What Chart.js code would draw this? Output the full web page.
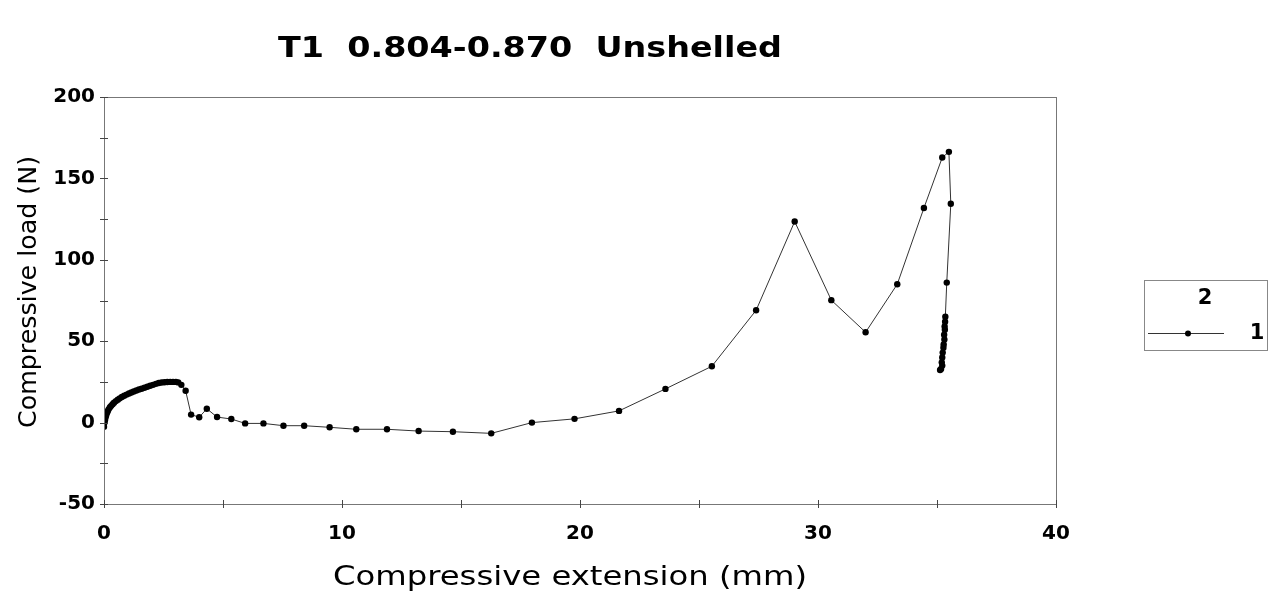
<!DOCTYPE html>
<html>
<head>
<meta charset="utf-8">
<script src="https://cdn.jsdelivr.net/npm/chart.js@4/dist/chart.umd.min.js"></script>
<style>
  html, body { margin: 0; padding: 0; background: #fff; }
  #wrap { width: 1274px; height: 593px; position: relative; }
</style>
</head>
<body>
<div id="wrap"><canvas id="c" width="1274" height="593"></canvas></div>
<script>
// ---- data ----
const chartTitle = "T1  0.804-0.870  Unshelled";
const xAxisTitle = "Compressive extension (mm)";
const yAxisTitle = "Compressive load (N)";
const legendTitle = "2";
const seriesName = "1";

const extension = [
  0, 0.02, 0.04, 0.06, 0.08, 0.1, 0.13, 0.16, 0.2, 0.25, 0.3, 0.36, 0.42, 0.5, 0.58, 0.66,
  0.75, 0.85, 0.95, 1.05, 1.15, 1.25, 1.36, 1.47, 1.58, 1.7, 1.82, 1.94, 2.06, 2.18, 2.3,
  2.42, 2.54, 2.66, 2.78, 2.9, 3.02, 3.12, 3.25, 3.43, 3.66, 4.0, 4.32, 4.75, 5.35, 5.93,
  6.7, 7.54, 8.41, 9.48, 10.6, 11.89, 13.22, 14.66, 16.27, 17.98, 19.77, 21.64, 23.59,
  25.54, 27.4, 29.02, 30.56, 32.0, 33.33, 34.45, 35.22, 35.5, 35.58, 35.41,
  35.35, 35.34, 35.32, 35.33, 35.3, 35.31, 35.28, 35.27, 35.24, 35.22, 35.2, 35.22, 35.17, 35.13
];
const load = [
  -2.5, 0, 1.5, 3, 4, 5, 6.2, 7.2, 8.3, 9.4, 10.3, 11.3, 12.2, 13.2, 14.1, 14.9,
  15.7, 16.5, 17.2, 17.9, 18.5, 19.1, 19.7, 20.3, 20.8, 21.4, 22, 22.6, 23.2, 23.8, 24.3,
  24.6, 24.8, 24.9, 25, 25, 25, 24.7, 23.2, 19.6, 4.9, 3.3, 8.5, 3.4, 2.2, -0.5,
  -0.5, -1.9, -1.9, -2.9, -4.1, -4.1, -5.2, -5.6, -6.6, 0, 2.3, 7.2, 20.7,
  34.6, 69, 123.5, 75.2, 55.5, 85, 131.8, 162.8, 166.3, 134.4, 86,
  65, 62, 59, 57, 54, 51, 48, 46, 43, 40, 37, 35, 33, 32.3
];

const xMin = 0, xMax = 40, xStep = 5, xLabelStep = 10;
const yMin = -50, yMax = 200, yStep = 25, yLabelStep = 50;

const points = extension.map((x, i) => ({ x: x, y: load[i] }));

const FONT = "'DejaVu Sans', Verdana, sans-serif";

// draw text centred at (cx, cy), stretched horizontally to a target width
function stretchedText(ctx, text, cx, cy, targetW) {
  const w = ctx.measureText(text).width;
  const sx = targetW / w;
  ctx.save();
  ctx.translate(cx, cy);
  ctx.scale(sx, 1);
  ctx.textAlign = 'center';
  ctx.fillText(text, 0, 0);
  ctx.restore();
}

const framePlugin = {
  id: 'frame',
  afterDraw(chart) {
    const { ctx, chartArea: a } = chart;
    const xs = chart.scales.x, ys = chart.scales.y;
    ctx.save();
    ctx.strokeStyle = '#777';
    ctx.lineWidth = 1;
    ctx.strokeRect(Math.round(a.left) + 0.5, Math.round(a.top) + 0.5,
      Math.round(a.right - a.left), Math.round(a.bottom - a.top));
    // crossing tick marks
    ctx.strokeStyle = '#444';
    ctx.beginPath();
    for (let v = xMin; v <= xMax; v += xStep) {
      const px = Math.round(xs.getPixelForValue(v)) + 0.5;
      ctx.moveTo(px, a.bottom - 4); ctx.lineTo(px, a.bottom + 4);
    }
    for (let v = yMin; v <= yMax; v += yStep) {
      const py = Math.round(ys.getPixelForValue(v)) + 0.5;
      ctx.moveTo(a.left - 4, py); ctx.lineTo(a.left + 4, py);
    }
    ctx.stroke();
    // chart title
    ctx.fillStyle = '#000';
    ctx.textBaseline = 'middle';
    ctx.font = "bold 29px " + FONT;
    stretchedText(ctx, chartTitle, 530, 49, 504);
    // x axis title
    ctx.font = "26px " + FONT;
    stretchedText(ctx, xAxisTitle, 570, 578, 474);
    // y axis title
    ctx.save();
    ctx.translate(29, 292);
    ctx.rotate(-Math.PI / 2);
    ctx.font = "25px " + FONT;
    stretchedText(ctx, yAxisTitle, 0, 0, 272);
    ctx.restore();
    // legend
    const lx = 1144, ly = 280, lw = 123, lh = 70;
    ctx.strokeStyle = '#888';
    ctx.lineWidth = 1;
    ctx.strokeRect(lx + 0.5, ly + 0.5, lw, lh);
    ctx.font = "bold 21px " + FONT;
    ctx.textAlign = 'center';
    ctx.fillText(legendTitle, 1205, 299);
    const ds = chart.data.datasets[0];
    ctx.strokeStyle = ds.borderColor;
    ctx.beginPath();
    ctx.moveTo(1148, 333.5);
    ctx.lineTo(1224, 333.5);
    ctx.stroke();
    ctx.fillStyle = ds.pointBackgroundColor;
    ctx.beginPath();
    ctx.arc(1188, 333.5, 3, 0, Math.PI * 2);
    ctx.fill();
    ctx.fillStyle = '#000';
    ctx.fillText(ds.label, 1257, 334);
    ctx.restore();
  }
};

new Chart(document.getElementById('c'), {
  type: 'scatter',
  data: {
    datasets: [{
      label: seriesName,
      data: points,
      showLine: true,
      borderColor: '#333',
      borderWidth: 1,
      pointBackgroundColor: '#000',
      pointBorderColor: '#000',
      pointRadius: 3.2,
      pointBorderWidth: 0,
      tension: 0
    }]
  },
  options: {
    responsive: false,
    animation: false,
    events: [],
    layout: { padding: { left: 0, top: 97, right: 218, bottom: 0 } },
    plugins: { legend: { display: false }, title: { display: false }, tooltip: { enabled: false } },
    scales: {
      x: {
        type: 'linear', min: xMin, max: xMax,
        afterFit(s) { s.height = 89; },
        border: { display: true, color: '#777', width: 1 },
        grid: { drawOnChartArea: false, drawTicks: false },
        ticks: {
          stepSize: xStep, color: '#000', padding: 18,
          font: { family: FONT, size: 20, weight: 'bold' },
          maxRotation: 0, autoSkip: false,
          callback: v => (v % xLabelStep === 0 ? String(v) : '')
        }
      },
      y: {
        type: 'linear', min: yMin, max: yMax,
        afterFit(s) { s.width = 104; },
        border: { display: true, color: '#777', width: 1 },
        grid: { drawOnChartArea: false, drawTicks: false },
        ticks: {
          stepSize: yStep, color: '#000', padding: 9,
          font: { family: FONT, size: 20, weight: 'bold' },
          autoSkip: false,
          callback: v => (v % yLabelStep === 0 ? String(v) : '')
        }
      }
    }
  },
  plugins: [framePlugin]
});
</script>
</body>
</html>
